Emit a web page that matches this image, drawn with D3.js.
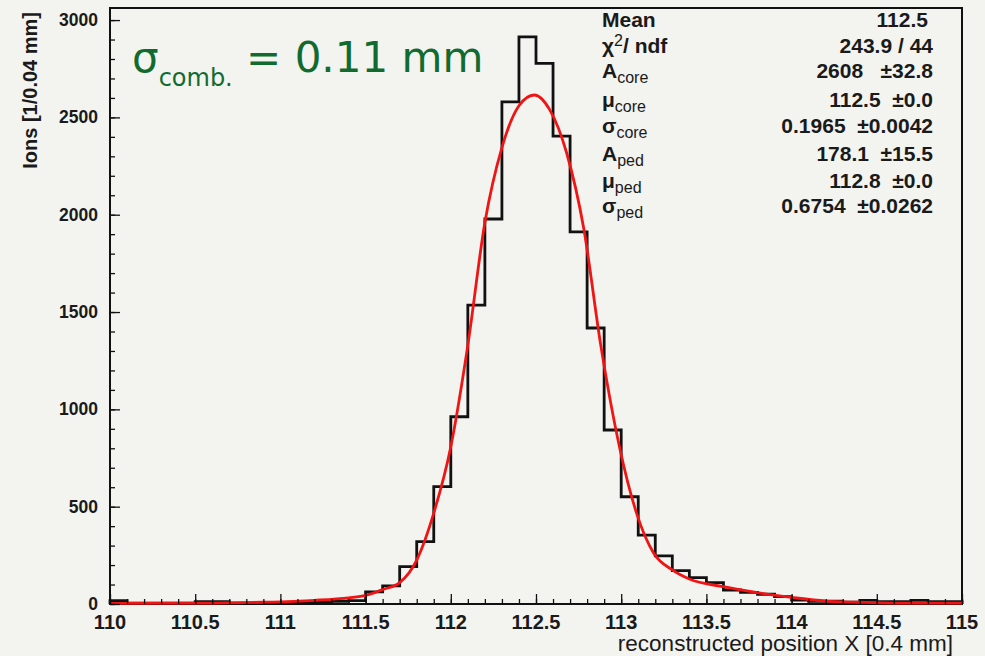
<!DOCTYPE html>
<html>
<head>
    <title>Reconstructed position X</title>
    <style>
        body {
            margin: 0;
            background: #f3f3f0;
        }
        svg text {
            font-family: "Liberation Sans", Arial, sans-serif;
            fill: #1a1a1a;
        }
        .tick-label {
            font-weight: bold;
        }
        .stat {
            font-size: 21px;
            font-weight: bold;
            white-space: pre;
        }
        .stat .sub {
            font-size: 16px;
            font-weight: normal;
        }
    </style>
</head>
<body>
    <div id="chart"></div>

    <script src="https://d3js.org/d3.v7.min.js"></script>
    <script>
        // histogram bins (lower edge, width 0.1) and counts
        const binLeft = [
            110.0, 110.1, 110.2, 110.3, 110.4, 110.5, 110.6, 110.7, 110.8, 110.9,
            111.0, 111.1, 111.2, 111.3, 111.4, 111.5, 111.6, 111.7, 111.8, 111.9,
            112.0, 112.1, 112.2, 112.3, 112.4, 112.5, 112.6, 112.7, 112.8, 112.9,
            113.0, 113.1, 113.2, 113.3, 113.4, 113.5, 113.6, 113.7, 113.8, 113.9,
            114.0, 114.1, 114.2, 114.3, 114.4, 114.5, 114.6, 114.7, 114.8, 114.9
        ];
        const binCounts = [
            17, 5, 5, 5, 5, 12, 12, 5, 5, 6,
            6, 7, 10, 14, 17, 62, 93, 192, 320, 603,
            962, 1536, 1978, 2580, 2914, 2778, 2404, 1912, 1418, 894,
            551, 354, 247, 171, 135, 110, 72, 60, 50, 38,
            20, 14, 14, 10, 19, 12, 12, 19, 12, 12
        ];
        const binWidth = 0.1;

        // points along the red fit curve
        const fitX = [110.0, 110.5, 110.9, 111.2, 111.4, 111.5, 111.6, 111.7, 111.8, 111.9,
            112.0, 112.1, 112.2, 112.3, 112.4, 112.49, 112.58, 112.68, 112.78, 112.88,
            112.99, 113.09, 113.19, 113.3, 113.4, 113.6, 113.8, 114.0, 114.2, 114.4,
            114.6, 115.0];
        const fitY = [3, 4, 9, 19, 32, 44, 74, 110, 226, 467,
            808, 1330, 1960, 2345, 2560, 2615, 2540, 2317, 1930, 1330,
            807, 467, 262, 175, 128, 89, 58, 34, 15, 9,
            5, 4];

        const xTicks = [110, 110.5, 111, 111.5, 112, 112.5, 113, 113.5, 114, 114.5, 115];
        const yTicks = [0, 500, 1000, 1500, 2000, 2500, 3000];

        const statLabels = [
            ["Mean", ""], ["\u03C7", "2"], ["A", "core"], ["\u03BC", "core"],
            ["\u03C3", "core"], ["A", "ped"], ["\u03BC", "ped"], ["\u03C3", "ped"]
        ];
        const statValues = [
            "112.5", "243.9 / 44", "2608   \u00B132.8", "112.5  \u00B10.0",
            "0.1965  \u00B10.0042", "178.1  \u00B115.5", "112.8  \u00B10.0", "0.6754  \u00B10.0262"
        ];

        const width = 985;
        const height = 656;
        const frame = {left: 110, right: 962, top: 8, bottom: 604};

        const svg = d3.select("#chart")
            .append("svg")
            .attr("width", width)
            .attr("height", height);

        const x = d3.scaleLinear().domain([110, 115]).range([frame.left, frame.right]);
        const y = d3.scaleLinear().domain([0, 3062]).range([frame.bottom, frame.top]);

        // frame
        svg.append("rect")
            .attr("x", frame.left)
            .attr("y", frame.top)
            .attr("width", frame.right - frame.left)
            .attr("height", frame.bottom - frame.top)
            .attr("fill", "#f3f3f0")
            .attr("stroke", "#111")
            .attr("stroke-width", 2);

        // histogram outline
        let d = `M${x(binLeft[0])},${y(0)}`;
        binLeft.forEach((b, i) => {
            d += `V${y(binCounts[i])}H${x(b + binWidth)}`;
        });
        d += `V${y(0)}`;
        svg.append("path")
            .attr("d", d)
            .attr("fill", "none")
            .attr("stroke", "#111")
            .attr("stroke-width", 2.8);

        // fit curve
        const line = d3.line()
            .x(i => x(fitX[i]))
            .y(i => y(fitY[i]))
            .curve(d3.curveMonotoneX);
        svg.append("path")
            .attr("d", line(d3.range(fitX.length)))
            .attr("fill", "none")
            .attr("stroke", "#f01414")
            .attr("stroke-width", 2.8);

        // axes, ROOT style: ticks inside the frame
        const xAxis = svg.append("g").attr("transform", `translate(0,${frame.bottom})`);
        xAxis.call(d3.axisBottom(x).tickValues(d3.range(110, 115.001, 0.1)).tickSize(-5).tickFormat(""));
        xAxis.call(g => g.select(".domain").remove());
        xAxis.append("g").call(d3.axisBottom(x).tickValues(xTicks).tickSize(-10).tickFormat(""))
            .call(g => g.select(".domain").remove());
        xAxis.selectAll("line").attr("stroke", "#111").attr("stroke-width", 1.3);

        svg.selectAll(".xlab")
            .data(xTicks)
            .enter()
            .append("text")
            .attr("class", "tick-label")
            .attr("x", v => x(v))
            .attr("y", 629)
            .attr("text-anchor", "middle")
            .attr("font-size", 20)
            .text(v => String(v));

        const yAxis = svg.append("g").attr("transform", `translate(${frame.left},0)`);
        yAxis.call(d3.axisLeft(y).tickValues(d3.range(0, 3001, 100)).tickSize(-5).tickFormat(""));
        yAxis.call(g => g.select(".domain").remove());
        yAxis.append("g").call(d3.axisLeft(y).tickValues(yTicks).tickSize(-10).tickFormat(""))
            .call(g => g.select(".domain").remove());
        yAxis.selectAll("line").attr("stroke", "#111").attr("stroke-width", 1.3);

        svg.selectAll(".ylab")
            .data(yTicks)
            .enter()
            .append("text")
            .attr("class", "tick-label")
            .attr("x", 98)
            .attr("y", v => y(v) + 6)
            .attr("text-anchor", "end")
            .attr("font-size", 17.5)
            .text(v => String(v));

        // axis titles
        svg.append("text")
            .attr("x", 953)
            .attr("y", 651)
            .attr("text-anchor", "end")
            .attr("font-size", 22.5)
            .text("reconstructed position X [0.4 mm]");

        svg.append("text")
            .attr("transform", "translate(37,12) rotate(-90)")
            .attr("text-anchor", "end")
            .attr("font-size", 20)
            .attr("font-weight", "bold")
            .text("Ions [1/0.04 mm]");

        // stats box
        const statBase = [27, 53, 78, 107, 133, 161, 188, 213];
        statLabels.forEach((lab, i) => {
            const t = svg.append("text")
                .attr("class", "stat")
                .attr("x", 602)
                .attr("y", statBase[i]);
            t.append("tspan").text(lab[0]);
            if (lab[0] === "\u03C7") {
                t.append("tspan").attr("class", "sub").attr("font-size", 14).attr("dy", -7).text("2");
                t.append("tspan").attr("dy", 7).text("/ ndf");
            } else if (lab[1]) {
                t.append("tspan").attr("class", "sub").attr("dy", 5).text(lab[1]);
            }
        });
        svg.selectAll(".statval")
            .data(statValues)
            .enter()
            .append("text")
            .attr("class", "stat")
            .attr("x", (v, i) => i === 0 ? 928 : 933)
            .attr("y", (v, i) => statBase[i])
            .attr("text-anchor", "end")
            .text(v => v);

        // resolution annotation
        const note = svg.append("text")
            .attr("x", 132)
            .attr("y", 72)
            .style("font-family", "'DejaVu Sans', sans-serif")
            .style("fill", "#116b30")
            .attr("font-size", 42);
        note.append("tspan").text("\u03C3");
        note.append("tspan").attr("font-size", 24).attr("dy", 14).text("comb.");
        note.append("tspan").attr("dy", -14).text(" = 0.11 mm");
    </script>
</body>
</html>
